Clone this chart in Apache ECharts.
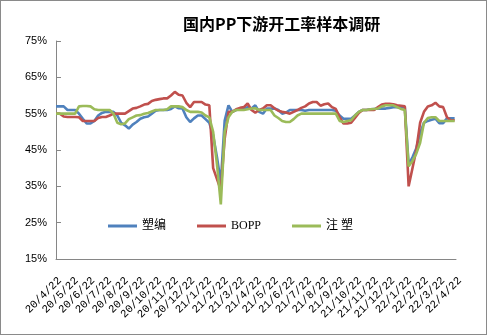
<!DOCTYPE html>
<html><head><meta charset="utf-8">
<script src="https://cdn.jsdelivr.net/npm/echarts@6/dist/echarts.min.js"></script>
<style>html,body{margin:0;padding:0;background:#fff}#c{width:487px;height:335px;box-sizing:border-box;border:1px solid #8a8a8a}</style>
</head><body><div id="c"></div>
<script>
const monthLabels = ['20/4/22','20/5/22','20/6/22','20/7/22','20/8/22','20/9/22','20/10/22','20/11/22','20/12/22','21/1/22','21/2/22','21/3/22','21/4/22','21/5/22','21/6/22','21/7/22','21/8/22','21/9/22','21/10/22','21/11/22','21/12/22','22/1/22','22/2/22','22/3/22','22/4/22'];
const seriesNames = ['塑编','BOPP','注 塑'];
// weekly values starting 2020/4/22
const suBian = [57,57,57,56,56,56,55,53.6,52.3,52.3,53,54.5,55.2,55.5,55.5,55.5,54.5,52.5,51.8,50.9,52,52.7,53.6,54,54.2,55,55.8,56,56,56,56.3,57,56.5,56.4,54,52.7,53.7,54.5,54.5,53.5,52.5,49,43,36,53,57.3,55.5,56,56.2,56.4,56.8,56.4,57.3,55.5,55,56.4,56.4,56.4,56,55,55.3,56,56,56,56,55.8,56,56,56,56,56,56,56,55.8,54.5,53.6,53.6,53.6,54.5,55.5,56,56,56.2,56.3,56.4,56.4,56.4,56.6,56.8,56.8,56.8,56.8,41,43,45.5,49.6,52.5,53,53.3,53.6,52.4,52.4,53.7,53.7,53.7];
const bopp = [55,55,54.2,54.1,54.1,54.1,54,53,53,53,53,53.8,54.1,54.1,54.5,55,55,55,55,55.7,56.4,56.6,57,57.5,57.7,58.5,58.8,59,59.2,59.2,60,61,60.2,60,58,56.8,58.2,58.2,58.2,57.5,57.3,40,37,34,48,55.5,55.5,56.2,56.6,56.8,57.8,56,55.3,56,56.4,57.3,57.3,56.5,55.8,55.5,55.3,55,55.5,56,56.6,57,57.8,58.2,58.2,57.2,57.6,57.8,56.8,56.3,54,52.3,52.3,52.5,53.8,55.2,56,56,56,56,56.8,57.5,57.7,57.7,57.6,57.3,57.2,57,35,40,45,52.5,55.5,57,57.3,58,57,56.8,54,53.2,53.2];
const zhuSu = [55,55,55,55,55,55,57,57.1,57.1,57,56.2,56,56,56,56,55,52.5,52.1,52.3,53.5,54,54.5,54.6,55,55.2,55.6,56,56,56,56.2,57,57,57,56.8,56,55.5,55.5,55.5,55.3,54.5,54,50,41,30,50,54,55.5,56,56,56,56.2,56.4,56.5,56,56,56,56,54.5,53.8,53,52.7,52.7,53.5,54.5,55,55,55,55,55,55,55,55,55,55,53,52.7,53,53.2,54.5,55.5,56,56,56.2,56.3,56.4,57,57.3,57.3,57.3,56.8,56.3,56,40.5,42,44,47,52.5,53.8,54,54,53,53,53,53,53];
const colors = ['#4F81BD','#C0504D','#9BBB59'];
const monthsPerWeek = 7 / (365.25 / 12);
const toPairs = arr => arr.map((v, i) => [i * monthsPerWeek, v]);
const chart = echarts.init(document.getElementById('c'), null, {renderer: 'canvas'});
chart.setOption({
  animation: false,
  title: {text: '国内PP下游开工率样本调研', left: 177, top: 10,
    textStyle: {fontFamily: 'Noto Sans CJK SC', fontSize: 16, fontWeight: 'bold', color: '#000'}},
  grid: {left: 55, right: 30, top: 40, bottom: 75},
  legend: {left: 102, top: 214, icon: 'rect', itemWidth: 29, itemHeight: 3, itemGap: 31,
    textStyle: {fontFamily: 'Liberation Serif, Noto Sans CJK SC', fontSize: 12, color: '#000'},
    data: seriesNames},
  xAxis: {type: 'value', min: 0, max: 24, interval: 1,
    axisLine: {lineStyle: {color: '#868686', width: 1}},
    axisTick: {show: false}, splitLine: {show: false},
    axisLabel: {rotate: 45, margin: 16, verticalAlign: 'top', fontFamily: 'Liberation Mono', fontSize: 11, color: '#000',
      formatter: v => monthLabels[Math.round(v)] || ''}},
  yAxis: {type: 'value', min: 15, max: 75, interval: 10,
    axisLine: {show: true, lineStyle: {color: '#868686', width: 1}},
    axisTick: {show: true, inside: true, length: 5, lineStyle: {color: '#868686'}},
    splitLine: {show: false},
    axisLabel: {margin: 9, fontFamily: 'Liberation Sans', fontSize: 11, color: '#000', formatter: v => v + '%'}},
  series: [suBian, bopp, zhuSu].map((d, i) => ({
    name: seriesNames[i], type: 'line', data: toPairs(d), symbol: 'none', showSymbol: false,
    itemStyle: {color: colors[i]}, lineStyle: {color: colors[i], width: 2.6}
  }))
});
</script></body></html>
